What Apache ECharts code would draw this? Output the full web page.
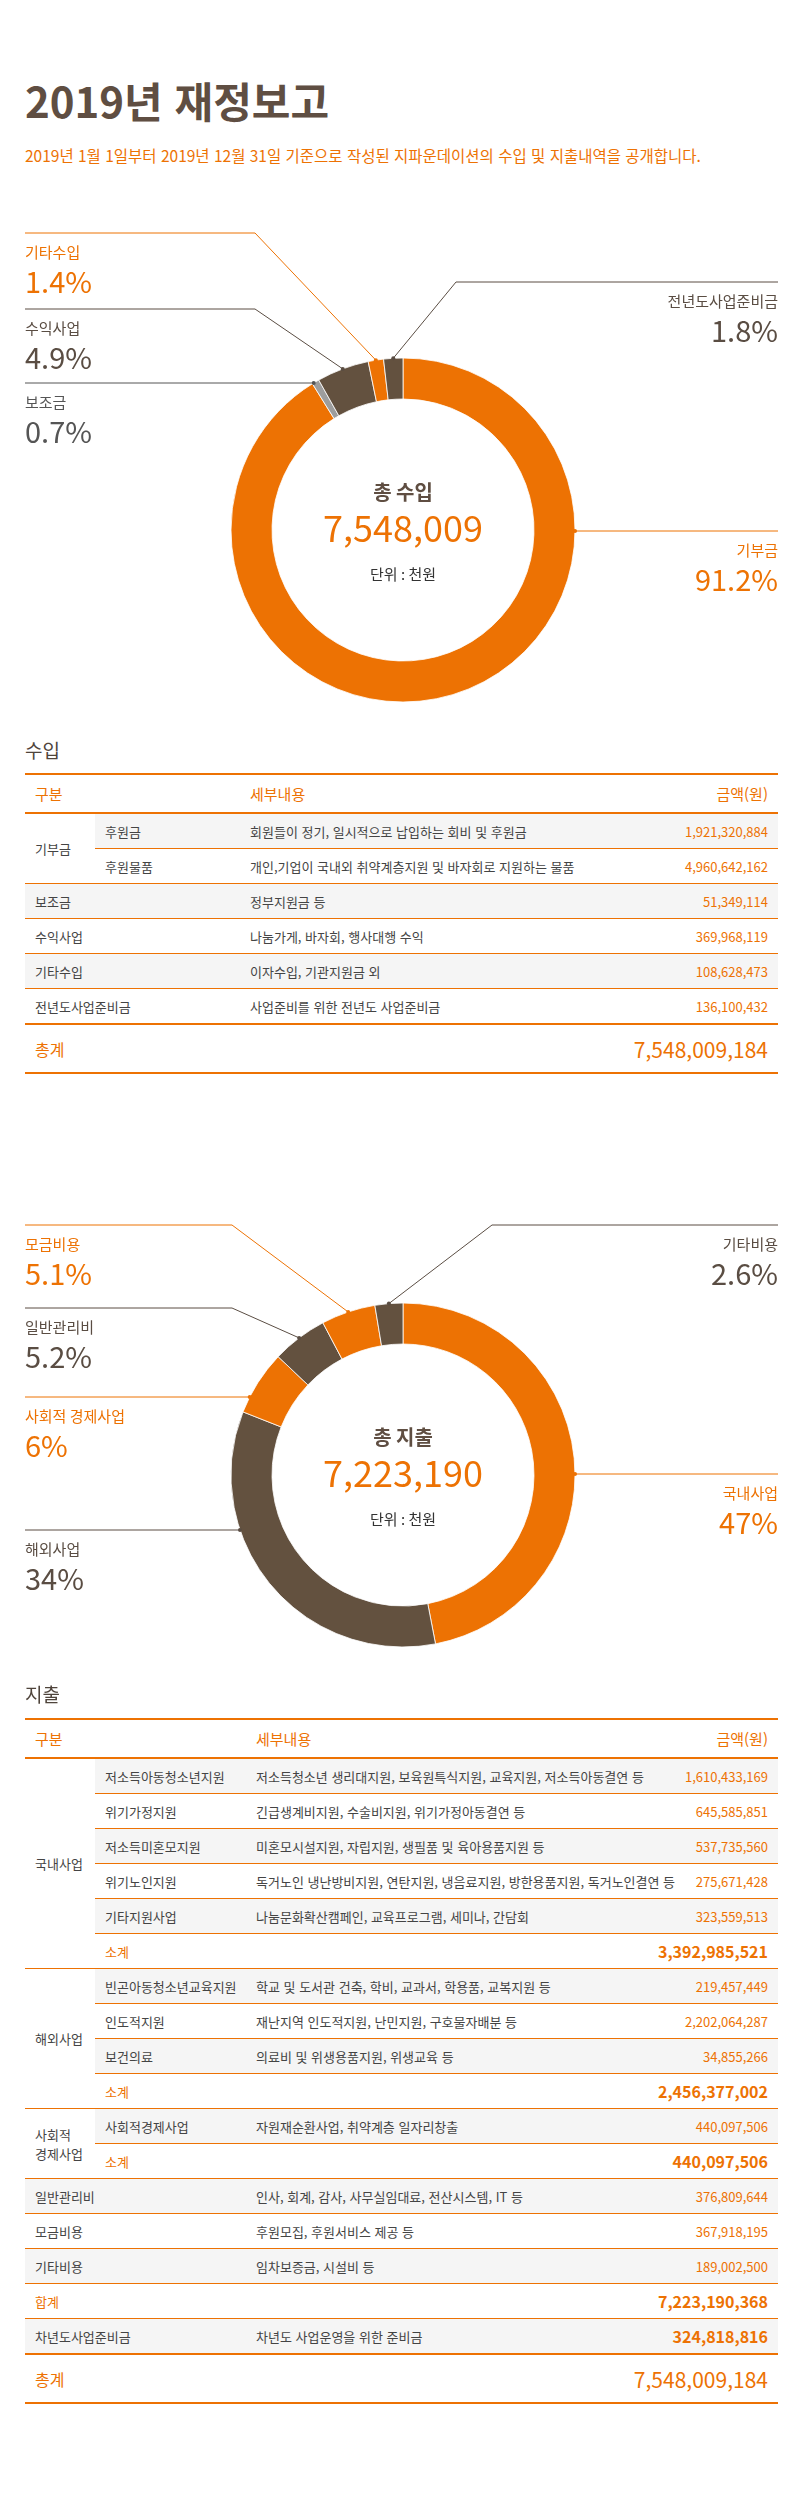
<!DOCTYPE html>
<html lang="ko">
<head>
<meta charset="utf-8">
<script src="https://cdn.jsdelivr.net/npm/echarts@6/dist/echarts.min.js"></script>
<style>
  html, body { margin: 0; padding: 0; background: #fff; }
  body { font-family: "Noto Sans CJK KR", "Noto Sans", sans-serif; }
  #page { position: relative; width: 800px; height: 2504px; overflow: hidden; background: #fff; }
  .abs { position: absolute; }
  .title { left: 25px; top: 75px; font-size: 42px; line-height: 50px; font-weight: 700; color: #5f4e42; white-space: nowrap; }
  .subtitle { left: 25px; top: 143px; font-size: 15.5px; line-height: 24px; color: #ED7203; white-space: nowrap; }
  .h2 { left: 25px; font-size: 19px; line-height: 28px; color: #4f443b; white-space: nowrap; }
  .tbl { position: absolute; left: 25px; width: 753px; border-top: 2px solid #ED7203; border-bottom: 2px solid #ED7203; }
  .hdr { display: flex; align-items: center; height: 37px; border-bottom: 2px solid #ED7203; color: #ED7203; font-size: 15px; }
  .row { display: flex; align-items: center; height: 34px; border-bottom: 1px solid #ED7203; font-size: 13px; color: #444; }
  .row.nob { border-bottom: none; }
  .grey { background: #F5F5F5; }
  .group { display: flex; border-bottom: 1px solid #ED7203; }
  .gcell { width: 70px; flex: none; padding-left: 10px; box-sizing: border-box; display: flex; align-items: center; font-size: 13px; line-height: 19px; color: #444; background: #fff; }
  .subcol { flex: 1; min-width: 0; }
  .c-name, .c-sub { flex: none; padding-left: 10px; box-sizing: border-box; white-space: nowrap; }
  .c-desc { flex: 1; padding-left: 10px; white-space: nowrap; }
  .c-amt { flex: none; padding-right: 10px; text-align: right; color: #ED7203; white-space: nowrap; }
  .hl { color: #ED7203; }
  .big { font-size: 16px; font-weight: 700; }
  .totalrow { display: flex; align-items: center; height: 47px; border-top: 2px solid #ED7203; color: #ED7203; }
  .totalrow .c-name { font-size: 16px; }
  .totalrow .c-amt { font-size: 21px; }
</style>
</head>
<body>
<div id="page">
  <div class="abs title">2019년 재정보고</div>
  <div class="abs subtitle">2019년 1월 1일부터 2019년 12월 31일 기준으로 작성된 지파운데이션의 수입 및 지출내역을 공개합니다.</div>
  <div id="c1" class="abs" style="left:0;top:180px;width:800px;height:540px"></div>
  <div class="abs h2" style="top:736px">수입</div>
  <div id="t1" class="tbl" style="top:773px"></div>
  <div id="c2" class="abs" style="left:0;top:1150px;width:800px;height:540px"></div>
  <div class="abs h2" style="top:1680px">지출</div>
  <div id="t2" class="tbl" style="top:1718px"></div>
</div>
<script>
// ---------------- DATA ----------------
// 수입 (income) table
const incomeGroups  = ['기부금', '기부금', '보조금', '수익사업', '기타수입', '전년도사업준비금'];
const incomeItems   = ['후원금', '후원물품', '', '', '', ''];
const incomeDetails = [
  '회원들이 정기, 일시적으로 납입하는 회비 및 후원금',
  '개인,기업이 국내외 취약계층지원 및 바자회로 지원하는 물품',
  '정부지원금 등',
  '나눔가게, 바자회, 행사대행 수익',
  '이자수입, 기관지원금 외',
  '사업준비를 위한 전년도 사업준비금'
];
const incomeAmounts = [1921320884, 4960642162, 51349114, 369968119, 108628473, 136100432];
const incomePieCategories = ['기부금', '보조금', '수익사업', '기타수입', '전년도사업준비금'];
const incomeShareLabels   = ['91.2%', '0.7%', '4.9%', '1.4%', '1.8%'];

// 지출 (expense) table
const expenseGroups = ['국내사업', '국내사업', '국내사업', '국내사업', '국내사업',
                       '해외사업', '해외사업', '해외사업',
                       '사회적 경제사업',
                       '일반관리비', '모금비용', '기타비용'];
const expenseItems = ['저소득아동청소년지원', '위기가정지원', '저소득미혼모지원', '위기노인지원', '기타지원사업',
                      '빈곤아동청소년교육지원', '인도적지원', '보건의료',
                      '사회적경제사업',
                      '', '', ''];
const expenseDetails = [
  '저소득청소년 생리대지원, 보육원특식지원, 교육지원, 저소득아동결연 등',
  '긴급생계비지원, 수술비지원, 위기가정아동결연 등',
  '미혼모시설지원, 자립지원, 생필품 및 육아용품지원 등',
  '독거노인 냉난방비지원, 연탄지원, 냉음료지원, 방한용품지원, 독거노인결연 등',
  '나눔문화확산캠페인, 교육프로그램, 세미나, 간담회',
  '학교 및 도서관 건축, 학비, 교과서, 학용품, 교복지원 등',
  '재난지역 인도적지원, 난민지원, 구호물자배분 등',
  '의료비 및 위생용품지원, 위생교육 등',
  '자원재순환사업, 취약계층 일자리창출',
  '인사, 회계, 감사, 사무실임대료, 전산시스템, IT 등',
  '후원모집, 후원서비스 제공 등',
  '임차보증금, 시설비 등'
];
const expenseAmounts = [1610433169, 645585851, 537735560, 275671428, 323559513,
                        219457449, 2202064287, 34855266,
                        440097506,
                        376809644, 367918195, 189002500];
const reserveName   = '차년도사업준비금';
const reserveDetail = '차년도 사업운영을 위한 준비금';
const reserveAmount = 324818816;
const expensePieCategories = ['국내사업', '해외사업', '사회적 경제사업', '일반관리비', '모금비용', '기타비용'];
const expenseShareLabels   = ['47%', '34%', '6%', '5.2%', '5.1%', '2.6%'];

// ---------------- STYLE / LAYOUT ----------------
const FONT = '"Noto Sans CJK KR", "Noto Sans", sans-serif';
const ORANGE = '#ED7203', BROWN = '#63513F', GREY = '#9D9D9D';
const TXT_BROWN = '#5a4d43', TXT_GREY = '#555555';

const incomeColors     = [ORANGE, GREY, BROWN, ORANGE, BROWN];
const incomeTextColors = [ORANGE, TXT_GREY, TXT_BROWN, ORANGE, TXT_BROWN];
const expenseColors     = [ORANGE, BROWN, ORANGE, BROWN, ORANGE, BROWN];
const expenseTextColors = [ORANGE, TXT_BROWN, ORANGE, TXT_BROWN, ORANGE, TXT_BROWN];

const incomeLayout  = { cx: 403, cy: 350, r0: 131, r: 172, lineY: [351, 203, 129, 53, 102],
                        rightSide: [true, false, false, false, true],
                        bendL: 255, bendR: 456, edgeL: 25, edgeR: 778, heading: '총 수입' };
const expenseLayout = { cx: 403, cy: 325, r0: 131, r: 172, lineY: [324, 380, 247, 158, 75, 75],
                        rightSide: [true, false, false, false, false, true],
                        bendL: 232, bendR: 492, edgeL: 25, edgeR: 778, heading: '총 지출' };

function fmt(n) { return n.toLocaleString('en-US'); }
function sumByGroup(groups, amounts, cats) {
  return cats.map(c => groups.reduce((s, g, i) => (g === c ? s + amounts[i] : s), 0));
}

// ---------------- DONUTS ----------------
function donut(domId, cats, vals, shares, colors, textColors, lay) {
  const chart = echarts.init(document.getElementById(domId), null, { renderer: 'canvas' });
  const total = vals.reduce((a, b) => a + b, 0);
  const starts = [], ends = [];
  let acc = 0;
  vals.forEach(v => { starts.push(acc / total); acc += v; ends.push(acc / total); });
  const { cx, cy, r0, r } = lay;
  const isRight = i => lay.rightSide[i];

  // leader-line routes derived from the slice geometry
  const routes = cats.map((c, i) => {
    const right = isRight(i);
    const ly = lay.lineY[i];
    const ex = right ? lay.edgeR : lay.edgeL;
    const dy = ly - cy;
    if (Math.abs(dy) < r) {
      const dx = Math.sqrt(r * r - dy * dy) * (right ? 1 : -1);
      let f = Math.atan2(dx, -dy) / (2 * Math.PI);
      if (f < 0) f += 1;
      if (f >= starts[i] && f <= ends[i]) return [[cx + dx, ly], [ex, ly]];
    }
    const a = (starts[i] + ends[i]) * Math.PI;
    return [[cx + r * Math.sin(a), cy - r * Math.cos(a)], [right ? lay.bendR : lay.bendL, ly], [ex, ly]];
  });

  const centerText = (text, dy, size, weight, color) => ({
    type: 'text', x: cx, y: cy + dy, silent: true,
    style: { text, fill: color, fontSize: size, fontWeight: weight, fontFamily: FONT,
             align: 'center', verticalAlign: 'middle', textAlign: 'center', textVerticalAlign: 'middle' }
  });

  const dots = routes.map((pts, i) => ({
    type: 'circle', silent: true, shape: { cx: pts[0][0], cy: pts[0][1], r: 2 },
    style: { fill: textColors[i] }, z: 10
  }));

  chart.setOption({
    animation: false,
    textStyle: { fontFamily: FONT },
    series: [{
      type: 'pie',
      radius: [r0, r],
      center: [cx, cy],
      startAngle: 90,
      clockwise: true,
      avoidLabelOverlap: false,
      silent: true,
      emphasis: { disabled: true },
      itemStyle: { borderColor: '#ffffff', borderWidth: 0.8 },
      label: {
        show: true, position: 'outside', fontFamily: FONT,
        formatter: p => '{n|' + p.name + '}\n{p|' + shares[p.dataIndex] + '}'
      },
      labelLine: { show: true, length: 10, length2: 10, lineStyle: { width: 1 } },
      labelLayout: p => {
        const i = p.dataIndex;
        const right = isRight(i);
        return {
          x: right ? lay.edgeR : lay.edgeL,
          y: lay.lineY[i] + 4,
          align: right ? 'right' : 'left',
          verticalAlign: 'top',
          labelLinePoints: routes[i]
        };
      },
      data: cats.map((c, i) => {
        const al = isRight(i) ? 'right' : 'left';
        return {
          name: c,
          value: vals[i],
          itemStyle: { color: colors[i] },
          label: {
            color: textColors[i], align: al,
            rich: {
              n: { fontSize: 15, lineHeight: 30, color: textColors[i], align: al, fontFamily: FONT },
              p: { fontSize: 29, lineHeight: 30, color: textColors[i], align: al, fontFamily: FONT }
            }
          },
          labelLine: { lineStyle: { color: textColors[i], width: 1 } }
        };
      })
    }],
    graphic: [
      centerText(lay.heading, -38, 20, 'bold', '#5f4e42'),
      centerText(fmt(Math.round(total / 1000)), -2, 36, 'normal', ORANGE),
      centerText('단위 : 천원', 44, 15, 'normal', '#333333')
    ].concat(dots)
  });
}

donut('c1', incomePieCategories, sumByGroup(incomeGroups, incomeAmounts, incomePieCategories),
      incomeShareLabels, incomeColors, incomeTextColors, incomeLayout);
donut('c2', expensePieCategories, sumByGroup(expenseGroups, expenseAmounts, expensePieCategories),
      expenseShareLabels, expenseColors, expenseTextColors, expenseLayout);

// ---------------- TABLES ----------------
function cell(cls, html, style) {
  return '<div class="' + cls + '"' + (style ? ' style="' + style + '"' : '') + '>' + html + '</div>';
}

function buildBody(groups, items, details, amounts, subW, withSubtotal, counter) {
  const out = [];
  let i = 0;
  while (i < groups.length) {
    const g = groups[i];
    let j = i;
    while (j < groups.length && groups[j] === g) j++;
    if (items[i]) {
      let sub = '';
      let subtotal = 0;
      for (let m = i; m < j; m++) {
        subtotal += amounts[m];
        const last = (m === j - 1) && !withSubtotal;
        sub += '<div class="row' + (counter.k++ % 2 === 0 ? ' grey' : '') + (last ? ' nob' : '') + '">' +
               cell('c-sub', items[m], 'width:' + subW + 'px') +
               cell('c-desc', details[m]) +
               cell('c-amt', fmt(amounts[m])) + '</div>';
      }
      if (withSubtotal) {
        sub += '<div class="row nob' + (counter.k++ % 2 === 0 ? ' grey' : '') + '">' +
               cell('c-sub hl', '소계', 'width:' + subW + 'px') +
               cell('c-desc', '') +
               cell('c-amt big', fmt(subtotal)) + '</div>';
      }
      out.push('<div class="group">' + cell('gcell', g.replace(' ', '<br>')) +
               '<div class="subcol">' + sub + '</div></div>');
    } else {
      out.push('<div class="row' + (counter.k++ % 2 === 0 ? ' grey' : '') + '">' +
               cell('c-name', g, 'width:' + (70 + subW) + 'px') +
               cell('c-desc', details[i]) +
               cell('c-amt', fmt(amounts[i])) + '</div>');
    }
    i = j;
  }
  return out;
}

function header(subW) {
  return '<div class="hdr">' + cell('c-name', '구분', 'width:' + (70 + subW) + 'px') +
         cell('c-desc', '세부내용') + cell('c-amt', '금액(원)') + '</div>';
}

function totalRow(subW, amount) {
  return '<div class="totalrow">' + cell('c-name', '총계', 'width:' + (70 + subW) + 'px') +
         cell('c-desc', '') + cell('c-amt', fmt(amount)) + '</div>';
}

// income table
(function () {
  const subW = 145;
  const counter = { k: 0 };
  const body = buildBody(incomeGroups, incomeItems, incomeDetails, incomeAmounts, subW, false, counter);
  body[body.length - 1] = body[body.length - 1].replace('class="row', 'class="row nob');
  const total = incomeAmounts.reduce((a, b) => a + b, 0);
  document.getElementById('t1').innerHTML = header(subW) + body.join('') + totalRow(subW, total);
})();

// expense table
(function () {
  const subW = 151;
  const counter = { k: 0 };
  const body = buildBody(expenseGroups, expenseItems, expenseDetails, expenseAmounts, subW, true, counter);
  const sumExp = expenseAmounts.reduce((a, b) => a + b, 0);
  body.push('<div class="row' + (counter.k++ % 2 === 0 ? ' grey' : '') + '">' +
            cell('c-name hl', '합계', 'width:' + (70 + subW) + 'px') +
            cell('c-desc', '') +
            cell('c-amt big', fmt(sumExp)) + '</div>');
  body.push('<div class="row nob' + (counter.k++ % 2 === 0 ? ' grey' : '') + '">' +
            cell('c-name', reserveName, 'width:' + (70 + subW) + 'px') +
            cell('c-desc', reserveDetail) +
            cell('c-amt big', fmt(reserveAmount)) + '</div>');
  document.getElementById('t2').innerHTML = header(subW) + body.join('') + totalRow(subW, sumExp + reserveAmount);
})();
</script>
</body>
</html>
